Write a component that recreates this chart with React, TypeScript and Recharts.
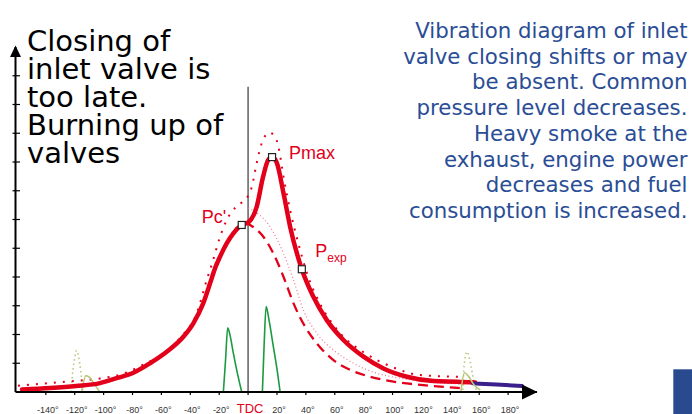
import {
  ComposedChart,
  Line,
  ReferenceDot,
  ReferenceLine,
  Scatter,
  XAxis,
  YAxis,
} from "recharts";

// crank angle in degrees, pressure in tick units
const xTicks = [-140, -120, -100, -80, -60, -40, -20, 0, 20, 40, 60, 80, 100, 120, 140, 160, 180];
const yTicks = [1, 2, 3, 4, 5, 6, 7, 8, 9, 10, 11];

const mainCurve = [
  [-156.5, 0.09], [-137, 0.14], [-119, 0.21], [-102.5, 0.31], [-91, 0.48], [-79.4, 0.67],
  [-67.9, 1.0], [-56.3, 1.4], [-44.8, 1.92], [-37.9, 2.39], [-31, 3.09], [-26.3, 3.78],
  [-22.9, 4.3], [-19.4, 4.71], [-14.8, 5.17], [-10.2, 5.52], [-4.4, 5.81], [0.2, 5.9],
  [6, 6.45], [10.4, 7.49], [13.9, 8.07], [16.6, 8.17], [19.9, 7.97], [24.5, 6.92],
  [29.1, 5.75], [37.2, 4.27], [45.2, 3.31], [54.5, 2.5], [66, 1.81], [79.9, 1.23],
  [93.7, 0.82], [109.9, 0.53], [128.4, 0.38], [144.6, 0.36], [157.2, 0.33],
];
const exhaustTail = [[155.8, 0.3], [172, 0.26], [189.6, 0.21]];
const normalCurve = [
  [-159.3, 0.22], [-137, 0.31], [-119, 0.39], [-102.5, 0.47], [-85, 0.66], [-72.7, 0.95],
  [-61, 1.25], [-47.1, 1.88], [-35.5, 2.75], [-28.6, 3.9], [-24.2, 4.59], [-19.4, 5.4],
  [-14.8, 5.98], [-7.8, 6.47], [-0.9, 6.75], [2.6, 7.14], [6, 7.97], [9.5, 8.66],
  [14.8, 9.02], [18.7, 8.88], [21, 8.53], [24.5, 7.49], [29.1, 6.33], [34.8, 5.17],
  [40.7, 4.14], [49.9, 3.06], [63.7, 2.05], [79.7, 1.39], [98.4, 0.9], [119.1, 0.59],
  [144.6, 0.53], [150, 0.52],
];
const lateMotoring = [
  [-2.1, 5.9], [1.4, 5.81], [10.6, 5.4], [17.5, 4.82], [24.5, 4.01], [31.4, 3.09],
  [39.5, 2.27], [47.6, 1.69], [59.1, 1.11], [70.7, 0.77], [84.5, 0.53], [100.6, 0.36],
  [121.4, 0.24], [139.9, 0.16], [148, 0.13],
];
const normalMotoring = [
  [0.2, 6.4], [6, 6.23], [15.2, 5.75], [24.5, 4.82], [31.4, 3.9], [38.3, 2.85],
  [47.6, 2.04], [59.1, 1.46], [72.9, 1.0], [89.1, 0.65], [105.3, 0.48], [123.8, 0.36],
  [139.9, 0.3], [150.3, 0.28],
];
const injectionA = [[-17.1, 0], [-15.6, 1.11], [-14.1, 2.23], [-12.5, 1.98], [-10.2, 1.35], [-7.6, 0.7], [-4.4, 0]];
const injectionB = [[9.9, 0], [11.1, 1.63], [12.5, 2.97], [14.5, 2.5], [17.5, 1.58], [20.1, 0.77], [22.2, 0]];
const inletVib = [[-115.2, 0], [-112.2, 0.57], [-109.4, 0.49], [-106, 0.24], [-102.5, 0]];
const exhaustVib = [[147.3, 0], [149.8, 0.67], [152.4, 0.56], [156.5, 0.24], [160.7, 0.07]];
const inletVibNormal = [[-122.8, 0], [-120.5, 1.04], [-118.7, 1.44], [-116.7, 1.04], [-115.2, 0.42], [-114.5, 0]];
const exhaustVibNormal = [[148.7, 0.07], [149.6, 0.94], [151.5, 1.4], [153.8, 1.04], [156.1, 0.42], [158.4, 0]];

const markers = [
  { name: "Pc'", x: -4.4, y: 5.81 },
  { name: "Pmax", x: 16.6, y: 8.17 },
  { name: "Pexp", x: 37.2, y: 4.27 },
];

const leftNote = ["Closing of", "inlet valve is", "too late.", "Burning up of", "valves"];
const rightNote = [
  "Vibration diagram of inlet",
  "valve closing shifts or may",
  "be absent. Common",
  "pressure level decreases.",
  "Heavy smoke at the",
  "exhaust, engine power",
  "decreases and fuel",
  "consumption is increased.",
];

const RED = "#e2001a";
const LABEL_FONT = "'Liberation Sans', Arial, sans-serif";
const NOTE_FONT = "'DejaVu Sans', Verdana, sans-serif";

const pts = (rows: number[][]) => rows.map(([x, y]) => ({ x, y }));

const XTick = (props: any) => {
  const { x, y, payload } = props;
  if (payload.value === 0) {
    return (
      <text x={x + 2} y={y + 15.5} textAnchor="middle" fill={RED} fontSize={13} fontFamily={LABEL_FONT}>
        TDC
      </text>
    );
  }
  return (
    <text x={x + 2} y={y + 15.5} textAnchor="middle" fill="#333" fontSize={9} fontFamily={LABEL_FONT}>
      {`${payload.value}°`}
    </text>
  );
};

const NoLabel = () => <g />;

const labelOffset: Record<string, [number, number]> = {
  "Pc'": [-40, -1.5],
  Pmax: [17, 2],
  Pexp: [13.5, -12.5],
};

const Marker = (props: any) => {
  const { cx, cy, payload } = props;
  const [dx, dy] = labelOffset[payload.name];
  const isExp = payload.name === "Pexp";
  return (
    <g>
      <rect x={cx - 3.5} y={cy - 3.5} width={7} height={7} fill="#fff" stroke="#222" strokeWidth={1.2} />
      <text x={cx + dx} y={cy + dy} fill={RED} fontSize={18} fontFamily={LABEL_FONT}>
        {isExp ? (
          <>
            P<tspan fontSize={12} dy={5}>exp</tspan>
          </>
        ) : (
          payload.name
        )}
      </text>
    </g>
  );
};

const UpArrow = (p: any) => (
  <polygon points={`${p.cx},${p.cy - 1.5} ${p.cx - 5.5},${p.cy + 10} ${p.cx + 5.5},${p.cy + 10}`} fill="#000" />
);
const RightArrow = (p: any) => (
  <polygon points={`${p.cx + 0.5},${p.cy} ${p.cx - 15},${p.cy - 7.5} ${p.cx - 15},${p.cy + 7.5}`} fill="#000" />
);

const curve = (data: number[][], stroke: string, width: number, dash?: string, cap: "round" | "butt" = "butt") => (
  <Line
    data={pts(data)}
    dataKey="y"
    type="monotone"
    stroke={stroke}
    strokeWidth={width}
    strokeDasharray={dash}
    strokeLinecap={cap}
    dot={false}
    activeDot={false}
    isAnimationActive={false}
  />
);

export default function App() {
  return (
    <div style={{ position: "absolute", left: 0, top: 0, width: 692, height: 414, background: "#fff" }}>
      <ComposedChart width={692} height={414} margin={{ top: 47, right: 155, bottom: 0, left: 0 }}>
        <XAxis
          dataKey="x"
          type="number"
          domain={[-161, 200]}
          ticks={xTicks}
          interval={0}
          allowDataOverflow
          height={22}
          axisLine={{ stroke: "#000", strokeWidth: 2 }}
          tickLine={{ stroke: "#000", strokeWidth: 1.2 }}
          tickSize={3}
          tick={XTick}
        />
        <XAxis
          xAxisId="m"
          type="number"
          domain={[-161, 200]}
          ticks={xTicks}
          interval={0}
          allowDataOverflow
          mirror
          axisLine={false}
          tickLine={{ stroke: "#000", strokeWidth: 1.2 }}
          tickSize={4.5}
          tick={NoLabel}
        />
        <YAxis
          dataKey="y"
          type="number"
          domain={[0, 12]}
          ticks={yTicks}
          interval={0}
          allowDataOverflow
          width={15.5}
          axisLine={{ stroke: "#000", strokeWidth: 2 }}
          tickLine={{ stroke: "#000", strokeWidth: 1.2 }}
          tickSize={3}
          tick={NoLabel}
        />
        <YAxis
          yAxisId="m"
          type="number"
          domain={[0, 12]}
          ticks={yTicks}
          interval={0}
          allowDataOverflow
          mirror
          axisLine={false}
          tickLine={{ stroke: "#000", strokeWidth: 1.2 }}
          tickSize={4.5}
          tick={NoLabel}
        />
        <ReferenceLine
          segment={[{ x: 0, y: 0 }, { x: 0, y: 10.62 }]}
          stroke="#555"
          strokeWidth={1.4}
          ifOverflow="visible"
        />
        {curve(inletVibNormal, "#b9c77b", 1.6, "1.5 3")}
        {curve(exhaustVibNormal, "#b9c77b", 1.6, "1.5 3")}
        {curve(normalMotoring, "#f27b96", 1.3, "1 2.5")}
        {curve(lateMotoring, RED, 2.3, "10 6")}
        {curve(normalCurve, RED, 2, "2 7")}
        {curve(injectionA, "#1c9a3f", 1.6)}
        {curve(injectionB, "#1c9a3f", 1.6)}
        {curve(inletVib, "#b9c77b", 1.6)}
        {curve(mainCurve, RED, 4.5, undefined, "round")}
        {curve(exhaustTail, "#3d1f8c", 4, undefined, "round")}
        {curve(exhaustVib, "#b9c77b", 1.6)}
        <Scatter data={markers} dataKey="y" shape={Marker} isAnimationActive={false} />
        <ReferenceDot x={-161} y={12} ifOverflow="visible" shape={UpArrow} />
        <ReferenceDot x={200} y={0} ifOverflow="visible" shape={RightArrow} />
      </ComposedChart>
      <svg
        width={692}
        height={414}
        style={{ position: "absolute", left: 0, top: 0, pointerEvents: "none" }}
      >
        {leftNote.map((line, i) => (
          <text key={line} x={27} y={51 + i * 28} fontSize={29} fill="#000" fontFamily={NOTE_FONT}>
            {line}
          </text>
        ))}
        {rightNote.map((line, i) => (
          <text
            key={line}
            x={687.5}
            y={38 + i * 25.7}
            textAnchor="end"
            fontSize={21.3}
            fill="#2a4d95"
            fontFamily={NOTE_FONT}
          >
            {line}
          </text>
        ))}
        <rect x={673.3} y={369.3} width={18.7} height={44.7} fill="#2a4a8f" />
      </svg>
    </div>
  );
}
